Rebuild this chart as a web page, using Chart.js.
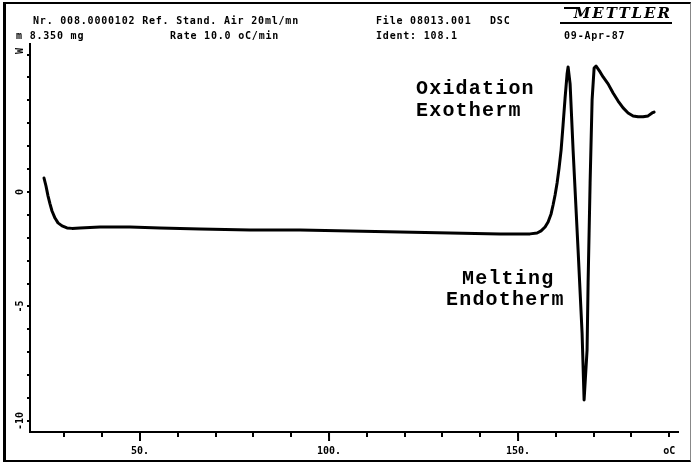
<!DOCTYPE html>
<html><head><meta charset="utf-8">
<script src="https://cdn.jsdelivr.net/npm/chart.js@4"></script>
<style>
html,body{margin:0;padding:0;background:#fff;}
#wrap{position:relative;width:693px;height:464px;overflow:hidden;background:#fff;}
canvas{position:absolute;left:0;top:0;}
.t{position:absolute;font-family:"DejaVu Sans Mono",monospace;font-weight:bold;font-size:10px;letter-spacing:0.8px;color:#000;white-space:pre;line-height:10px;}
.a{position:absolute;font-family:"Liberation Mono","Courier New",monospace;font-weight:bold;font-size:20px;letter-spacing:1.2px;color:#000;white-space:pre;line-height:20px;}
#frame{position:absolute;left:3px;top:2px;width:684px;height:456px;border-left:3px solid #000;border-top:2px solid #000;border-bottom:2px solid #000;border-right:1px solid #888;}
#logo{position:absolute;left:560px;top:5px;width:112px;height:17px;border-bottom:2px solid #000;font-family:"DejaVu Serif",serif;font-style:italic;font-weight:bold;font-size:15px;letter-spacing:2px;line-height:17px;text-align:right;}
#logo:before{content:"";position:absolute;left:4px;top:2px;width:16px;border-top:2px solid #000;}
</style></head>
<body>
<div id="wrap">
<canvas id="c" width="693" height="464"></canvas>
<div id="frame"></div>
<div class="t" style="left:33px;top:16px">Nr. 008.0000102 Ref. Stand. Air 20ml/mn</div>
<div class="t" style="left:376px;top:16px">File 08013.001</div>
<div class="t" style="left:490px;top:16px">DSC</div>
<div id="logo">METTLER</div>
<div class="t" style="left:16px;top:31px">m 8.350 mg</div>
<div class="t" style="left:170px;top:31px">Rate 10.0 oC/min</div>
<div class="t" style="left:376px;top:31px">Ident: 108.1</div>
<div class="t" style="left:564px;top:31px">09-Apr-87</div>
<div class="a" style="left:416px;top:79px">Oxidation</div>
<div class="a" style="left:416px;top:101px">Exotherm</div>
<div class="a" style="left:462px;top:269px">Melting</div>
<div class="a" style="left:446px;top:290px">Endotherm</div>
</div>
<script>
// Temperature (oC) and heat flow readings
const tempC = [24.60,25.13,25.66,26.19,26.72,27.51,28.31,29.37,30.69,32.01,34.13,39.42,47.35,55.29,65.87,79.10,92.33,105.56,118.78,132.01,145.24,150.53,153.17,155.03,156.08,157.14,157.94,158.73,159.26,159.79,160.32,160.85,161.38,161.90,162.43,162.96,163.23,163.76,164.55,165.87,166.93,167.46,168.25,168.52,169.05,169.58,170.11,170.63,171.69,172.49,173.81,175.13,176.46,177.78,179.10,180.42,181.75,183.07,184.39,185.45,185.98];
const heatFlow = [0.61,0.26,-0.17,-0.52,-0.83,-1.14,-1.35,-1.48,-1.57,-1.59,-1.57,-1.53,-1.53,-1.57,-1.62,-1.66,-1.66,-1.70,-1.75,-1.79,-1.83,-1.83,-1.83,-1.79,-1.70,-1.53,-1.31,-0.96,-0.57,-0.13,0.39,1.05,1.83,2.93,4.10,5.15,5.46,4.72,1.83,-2.53,-6.16,-9.08,-6.90,-3.97,0.39,4.02,5.41,5.50,5.24,5.02,4.72,4.32,3.97,3.67,3.45,3.32,3.28,3.28,3.32,3.45,3.49];
const xTickValues = [30,40,50,60,70,80,90,100,110,120,130,140,150,160,170,180,190];
const xMajorTicks = [50,100,150];
const xTickLabels = {50:'50.',100:'100.',150:'150.',190:'oC'};
const yTickValues = [-10,-9,-8,-7,-6,-5,-4,-3,-2,-1,0,1,2,3,4,5,6];
const yLabelValues = [0,-5,-10];
const yLabelTexts = ['0','-5','-10'];
const yUnit = 'W';

const points = tempC.map((t,i)=>({x:t,y:heatFlow[i]}));

const extras = {
  id:'extras',
  afterDraw(chart){
    const ctx = chart.ctx, xs = chart.scales.x, ys = chart.scales.y, ca = chart.chartArea;
    ctx.save();
    ctx.strokeStyle='#000'; ctx.lineWidth=2;
    xMajorTicks.forEach(v=>{
      const px = xs.getPixelForValue(v);
      ctx.beginPath(); ctx.moveTo(px, ca.bottom); ctx.lineTo(px, ca.bottom+9); ctx.stroke();
    });
    ctx.fillStyle='#000';
    ctx.font='bold 10px "DejaVu Sans Mono"';
    ctx.textAlign='center'; ctx.textBaseline='middle';
    yLabelValues.forEach((v,i)=>{
      const py = ys.getPixelForValue(v);
      ctx.save(); ctx.translate(20, py); ctx.rotate(-Math.PI/2);
      ctx.fillText(yLabelTexts[i],0,0); ctx.restore();
    });
    ctx.save(); ctx.translate(20, ca.top+7); ctx.rotate(-Math.PI/2);
    ctx.fillText(yUnit,0,0); ctx.restore();
    ctx.restore();
  }
};

new Chart(document.getElementById('c'), {
  type:'line',
  data:{datasets:[{data:points, borderColor:'#000', borderWidth:3, pointRadius:0, tension:0, borderJoinStyle:'round', borderCapStyle:'round', fill:false}]},
  options:{
    responsive:false, animation:false,
    layout:{padding:{left:8, top:44, right:15, bottom:0}},
    plugins:{legend:{display:false}, tooltip:{enabled:false}},
    scales:{
      x:{type:'linear', min:20.9, max:192.3,
        afterBuildTicks:s=>{s.ticks = xTickValues.map(v=>({value:v}));},
        afterFit:s=>{s.height = 32;},
        grid:{drawOnChartArea:false, color:'#000', lineWidth:2, tickLength:5},
        border:{color:'#000', width:2},
        ticks:{autoSkip:false, maxRotation:0, minRotation:0, padding:8, color:'#000',
          font:{family:'DejaVu Sans Mono', weight:'bold', size:10},
          callback:(v)=>xTickLabels[v]||''}
      },
      y:{type:'linear', min:-10.48, max:6.46,
        afterBuildTicks:s=>{s.ticks = yTickValues.map(v=>({value:v}));},
        afterFit:s=>{s.width = 22;},
        grid:{drawOnChartArea:false, color:'#000', lineWidth:2, tickLength:3},
        border:{color:'#000', width:2},
        ticks:{display:false}
      }
    }
  },
  plugins:[extras]
});
</script>
</body></html>
